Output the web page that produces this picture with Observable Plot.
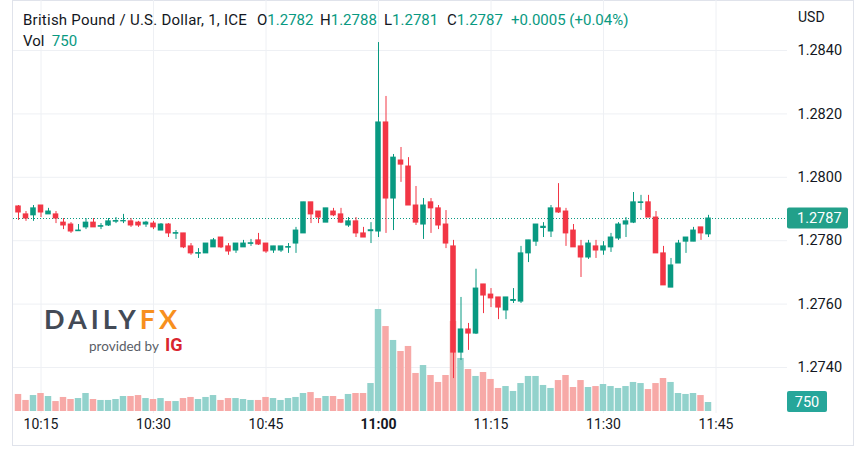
<!DOCTYPE html>
<html><head><meta charset="utf-8">
<script src="https://cdn.jsdelivr.net/npm/d3@7"></script>
<script src="https://cdn.jsdelivr.net/npm/@observablehq/plot@0.6"></script>
<style>
body{margin:0;background:#fff;font-family:Roboto,sans-serif;color:#131722;}
#wrap{position:relative;width:867px;height:459px;overflow:hidden;background:#fff;}
#wrap svg{position:absolute;left:0;top:0;}
.card{position:absolute;left:12px;top:0;width:840px;height:444px;border:1px solid #e0e3eb;box-sizing:content-box;}
.ov{position:absolute;white-space:nowrap;font-size:15px;line-height:16px;}
.t{letter-spacing:0.25px;}
.g{color:#089981;}
.logo{position:absolute;left:44px;top:306px;font-family:Lato,sans-serif;font-weight:700;font-size:27px;letter-spacing:4px;line-height:26px;color:#434a56;}
.prov{position:absolute;left:89px;top:336px;font-family:Lato,sans-serif;font-size:13.5px;color:#5a5e66;line-height:18px;}
.prov b{color:#d9262f;font-family:Roboto,sans-serif;font-weight:700;font-size:18px;letter-spacing:0px;margin-left:6px;}
</style></head><body><div id="wrap"><div class="card"></div></div>
<script>
// ---- data (GBP/USD, 1-minute candles from 10:12) ----
const startMinute = 10 * 60 + 12; // 10:12
const open = [
1.27908,1.27883,1.27880,1.27911,1.27883,1.27883,1.27857,1.27851,1.27830,1.27842,
1.27857,1.27844,1.27848,1.27860,1.27861,1.27861,1.27857,1.27851,1.27854,1.27832,
1.27851,1.27822,1.27823,1.27782,1.27759,1.27760,1.27779,1.27810,1.27782,1.27769,
1.27779,1.27790,1.27801,1.27791,1.27769,1.27769,1.27778,1.27791,1.27823,1.27921,
1.27892,1.27857,1.27892,1.27883,1.27848,1.27861,1.27823,1.27830,1.27829,1.28173,
1.27933,1.28053,1.28034,1.27911,1.27851,1.27921,1.27902,1.27851,1.27782,1.27447,
1.27520,1.27507,1.27662,1.27630,1.27621,1.27580,1.27610,1.27608,1.27760,1.27797,
1.27840,1.27829,1.27902,1.27892,1.27832,1.27782,1.27747,1.27782,1.27769,1.27779,
1.27807,1.27851,1.27857,1.27919,1.27921,1.27873,1.27760,1.27652,1.27728,1.27797,
1.27797,1.27842,1.27820];
const high = [
1.27911,1.27892,1.27911,1.27911,1.27902,1.27892,1.27870,1.27857,1.27851,1.27870,
1.27870,1.27854,1.27870,1.27873,1.27883,1.27870,1.27861,1.27861,1.27861,1.27854,
1.27854,1.27832,1.27823,1.27791,1.27775,1.27791,1.27807,1.27810,1.27791,1.27791,
1.27801,1.27804,1.27823,1.27791,1.27782,1.27782,1.27791,1.27842,1.27921,1.27921,
1.27892,1.27902,1.27902,1.27902,1.27873,1.27873,1.27842,1.27857,1.28425,1.28255,
1.28072,1.28094,1.28062,1.27971,1.27933,1.27933,1.27911,1.27895,1.27801,1.27621,
1.27539,1.27710,1.27662,1.27649,1.27621,1.27621,1.27649,1.27782,1.27801,1.27851,
1.27857,1.27911,1.27980,1.27902,1.27851,1.27801,1.27801,1.27801,1.27797,1.27823,
1.27857,1.27873,1.27952,1.27943,1.27943,1.27892,1.27782,1.27744,1.27801,1.27810,
1.27842,1.27842,1.27880];
const low = [
1.27864,1.27861,1.27861,1.27873,1.27883,1.27854,1.27835,1.27823,1.27829,1.27835,
1.27842,1.27835,1.27845,1.27854,1.27854,1.27842,1.27842,1.27842,1.27835,1.27832,
1.27810,1.27804,1.27775,1.27754,1.27744,1.27760,1.27779,1.27775,1.27754,1.27760,
1.27779,1.27782,1.27785,1.27760,1.27760,1.27763,1.27760,1.27760,1.27823,1.27854,
1.27854,1.27857,1.27876,1.27854,1.27842,1.27810,1.27810,1.27791,1.27810,1.27823,
1.27832,1.27984,1.27911,1.27848,1.27804,1.27823,1.27835,1.27775,1.27365,1.27422,
1.27454,1.27504,1.27570,1.27589,1.27551,1.27551,1.27602,1.27602,1.27731,1.27782,
1.27810,1.27810,1.27886,1.27782,1.27779,1.27684,1.27741,1.27744,1.27754,1.27763,
1.27801,1.27810,1.27854,1.27895,1.27873,1.27760,1.27659,1.27652,1.27728,1.27760,
1.27797,1.27801,1.27810];
const close = [
1.27889,1.27870,1.27902,1.27889,1.27892,1.27870,1.27848,1.27829,1.27832,1.27857,
1.27842,1.27846,1.27861,1.27862,1.27862,1.27848,1.27848,1.27857,1.27842,1.27851,
1.27823,1.27824,1.27779,1.27760,1.27761,1.27791,1.27801,1.27779,1.27766,1.27791,
1.27791,1.27792,1.27788,1.27766,1.27782,1.27782,1.27780,1.27832,1.27921,1.27883,
1.27873,1.27902,1.27880,1.27857,1.27861,1.27823,1.27810,1.27833,1.28173,1.27933,
1.28062,1.28040,1.27911,1.27857,1.27911,1.27902,1.27848,1.27791,1.27447,1.27520,
1.27507,1.27649,1.27627,1.27618,1.27589,1.27621,1.27613,1.27760,1.27801,1.27851,
1.27844,1.27902,1.27889,1.27823,1.27779,1.27747,1.27791,1.27769,1.27782,1.27810,
1.27851,1.27861,1.27921,1.27921,1.27873,1.27760,1.27659,1.27722,1.27791,1.27810,
1.27832,1.27823,1.27870];
const volume = [
1420,920,1330,1500,1250,830,1170,1000,1080,1500,
1000,920,920,1000,1250,1250,1330,1080,1000,1080,
830,830,1080,1170,1000,1170,1330,920,1080,1080,
1000,920,920,1170,1080,920,1080,1170,1500,1580,
1080,1250,1250,1000,1420,1500,1500,2330,8500,7080,
5920,5000,5420,3170,3830,3000,2420,3000,7500,4420,
3500,2920,3250,2670,1920,2080,1670,2330,2920,2920,
2170,1920,2580,3000,2000,2580,2000,2080,2250,2080,
1920,2080,2420,2330,1830,2330,2750,2420,1500,1420,
1500,1330,750];
const timeTicks = ["10:15","10:30","10:45","11:00","11:15","11:30","11:45"];
const boldTick = "11:00";
const priceTicks = [1.2740,1.2760,1.2780,1.2800,1.2820,1.2840];

// ---- build table ----
const toMin = s => { const [h,m] = s.split(":").map(Number); return h*60+m; };
const data = open.map((o,i) => ({
  m: startMinute + i, open: o, high: high[i], low: low[i], close: close[i], volume: volume[i],
  up: close[i] >= o
}));
const last = data[data.length-1];
const UP = "#089981", DOWN = "#f23645", VUP = "#92d2cc", VDOWN = "#f7a9a7";

const W = 867, H = 459;
const xDomain = [startMinute - 0.667, startMinute + 102.533];
const yDomain = [1.272549, 1.285577];
const base = {
  width: W, height: H, marginLeft: 13, marginRight: 80, marginTop: 0, marginBottom: 46,
  x: {type: "linear", domain: xDomain, axis: null},
  y: {domain: yDomain, axis: null},
  color: {type: "identity"},
  style: {background: "transparent", fontFamily: "Roboto, sans-serif", fontSize: "14px", color: "#131722", overflow: "visible"}
};
const wrap = document.getElementById("wrap");

// Layer A: grid + axes
const tickMins = timeTicks.map(toMin);
const layerA = Plot.plot({
  ...base,
  marks: [
    Plot.ruleX(tickMins, {stroke: "#eef0f4", strokeWidth: 1}),
    Plot.ruleY(priceTicks, {stroke: "#eef0f4", strokeWidth: 1}),
    Plot.axisY(priceTicks, {anchor: "right", tickSize: 0, tickPadding: 10, tickFormat: d => d.toFixed(4), fontSize: 14.5, fill: "#131722"}),
    Plot.text(timeTicks.filter(t => t !== boldTick), {x: toMin, text: d => d, frameAnchor: "bottom", dy: 15, fontSize: 14, fill: "#131722"}),
    Plot.text([boldTick], {x: toMin, text: d => d, frameAnchor: "bottom", dy: 15, fontSize: 14, fontWeight: "bold", fill: "#131722"}),
    Plot.ruleY([last.close], {stroke: UP, strokeWidth: 1, strokeDasharray: "1,2"})
  ]
});
wrap.appendChild(layerA);

// Layer B: volume
const layerB = Plot.plot({
  ...base,
  marginBottom: 48,
  y: {domain: [0, 34250], axis: null},
  marks: [
    Plot.rectY(data, {x1: d => d.m - 0.43, x2: d => d.m + 0.43, y: "volume", fill: d => d.up ? VUP : VDOWN})
  ]
});
wrap.appendChild(layerB);
{
  const vy = layerB.scale("y");
  const yy = vy.apply(last.volume);
  const g = d3.select(layerB).append("g");
  g.append("rect").attr("x", 787).attr("y", yy - 11).attr("width", 40).attr("height", 21).attr("rx", 2).attr("fill", "#26a69a");
  g.append("text").attr("x", 807).attr("y", yy - 0.5).attr("dy", "0.35em").attr("text-anchor", "middle")
    .attr("fill", "#fff").attr("font-size", 14.5).text(String(last.volume));
}

// Layer C: candles
const layerC = Plot.plot({
  ...base,
  marks: [
    Plot.ruleX(data, {x: "m", y1: "low", y2: "high", stroke: d => d.up ? UP : DOWN, strokeWidth: 1}),
    Plot.rect(data, {x1: d => d.m - 0.37, x2: d => d.m + 0.37, y1: "open", y2: "close", fill: d => d.up ? UP : DOWN, insetTop: -0.5, insetBottom: -0.5})
  ]
});
wrap.appendChild(layerC);
{
  const py = layerC.scale("y");
  const yy = py.apply(last.close);
  const g = d3.select(layerC).append("g");
  g.append("rect").attr("x", 787).attr("y", yy - 10.5).attr("width", 61).attr("height", 21).attr("rx", 2).attr("fill", "#22a08a");
  g.append("text").attr("x", 797).attr("y", yy).attr("dy", "0.35em").attr("text-anchor", "start")
    .attr("fill", "#fff").attr("font-size", 14.5).text(last.close.toFixed(4));
}

// Header / legend text
const fmt = v => v.toFixed(4);
const chg = last.close - last.open;
const hdr = [
  {x: 23, html: `<span class="t">British Pound / U.S. Dollar, 1, ICE</span>`},
  {x: 257, html: `O<span class="g">${fmt(last.open)}</span>`},
  {x: 320, html: `H<span class="g">${fmt(last.high)}</span>`},
  {x: 384, html: `L<span class="g">${fmt(last.low)}</span>`},
  {x: 447, html: `C<span class="g">${fmt(last.close)}</span>`},
  {x: 511, html: `<span class="g">+${chg.toFixed(4)} (+${(chg/last.open*100).toFixed(2)}%)</span>`}
];
for (const h of hdr) {
  const d = document.createElement("div");
  d.className = "ov"; d.style.left = h.x + "px"; d.style.top = "12px"; d.innerHTML = h.html;
  wrap.appendChild(d);
}
const vol = document.createElement("div");
vol.className = "ov"; vol.style.left = "23px"; vol.style.top = "33px";
vol.innerHTML = `Vol&nbsp;&nbsp;<span class="g">${last.volume}</span>`;
wrap.appendChild(vol);
const usd = document.createElement("div");
usd.className = "ov"; usd.style.left = "798px"; usd.style.top = "9px"; usd.style.fontSize = "14px"; usd.textContent = "USD";
wrap.appendChild(usd);

// Logo
const logo = document.createElement("div");
logo.className = "logo";
logo.innerHTML = `DAILY<span style="color:#f7901e">FX</span>`;
wrap.appendChild(logo);
const prov = document.createElement("div");
prov.className = "prov";
prov.innerHTML = `provided by<b>IG</b>`;
wrap.appendChild(prov);
</script></body></html>
